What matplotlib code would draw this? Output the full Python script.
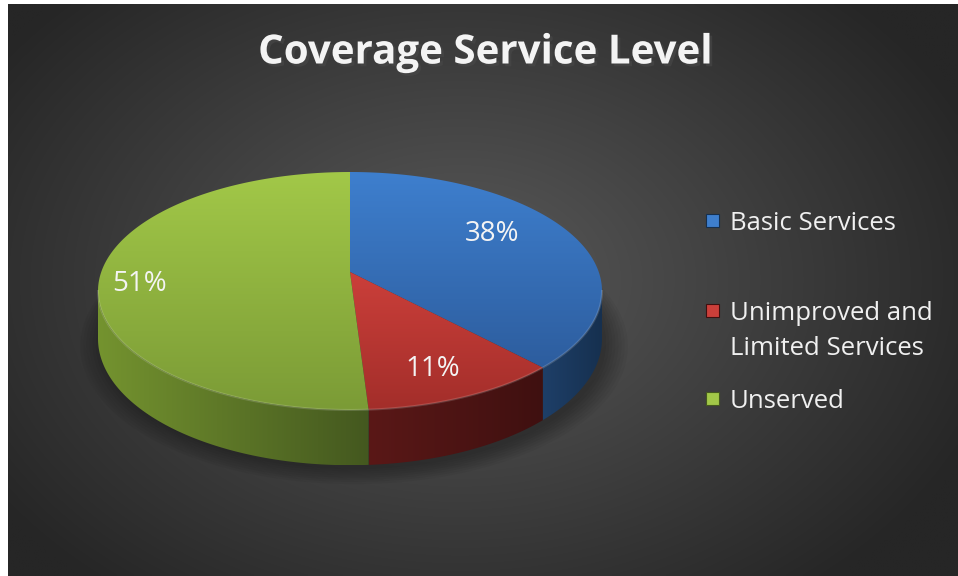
import numpy as np
import matplotlib.pyplot as plt
from matplotlib.patches import Polygon, Rectangle
from matplotlib.colors import to_rgb
import matplotlib.patheffects as pe

title = 'Coverage Service Level'
labels = ['Basic Services', 'Unimproved and\nLimited Services', 'Unserved']
shares = [38, 11, 51]

top_cols = [('#3e7fce', '#2d5d9e'), ('#cb3f3a', '#a32e2a'), ('#a2c848', '#7b9b36')]
side_cols = [('#1e3f68', '#16304f'), ('#5a1817', '#3f1010'), ('#74932f', '#44581f')]

W, H = 958, 576
fig = plt.figure(figsize=(W / 100, H / 100), dpi=100, facecolor='white')
ax = fig.add_axes([0, 0, 1, 1])
ax.set_axis_off()


def grad_fill(xy, c0, c1, horiz=False, z=2):
    xy = np.asarray(xy)
    patch = Polygon(xy, closed=True, fc='none', ec='none', zorder=z)
    ax.add_patch(patch)
    f = np.linspace(0, 1, 256)[:, None]
    img = np.array(to_rgb(c0)) * (1 - f) + np.array(to_rgb(c1)) * f
    img = img[None, :, :] if horiz else img[:, None, :]
    x0, y0 = xy.min(axis=0)
    x1, y1 = xy.max(axis=0)
    im = ax.imshow(img, extent=(x0, x1, y1, y0), aspect='auto',
                   interpolation='bilinear', zorder=z)
    im.set_clip_path(patch)


# background radial gradient
gx, gy = np.meshgrid(np.linspace(8, W, 300), np.linspace(4, H, 200))
r = np.sqrt(((gx - 460) / 560) ** 2 + ((gy - 280) / 400) ** 2)
r = np.clip(r, 0, 1)[..., None]
bg = np.array(to_rgb('#5a5a5a')) * (1 - r) + np.array(to_rgb('#262626')) * r
ax.imshow(bg, extent=(8, W, H, 4), aspect='auto', interpolation='bilinear', zorder=0)

# 3d pie geometry
cx, cy, A, B, D = 350, 291, 252, 119, 47
c = -0.16
k = np.sqrt(1 - c * c)


def proj(t, rr=1.0, z=0.0):
    u = rr * np.cos(t)
    v = rr * np.sin(t)
    w = 1 + c * v
    return cx + A * k * u / w, cy + B * (v + c) / w + z * D * k / w


# soft shadow
for i in range(8):
    t = np.linspace(0, 2 * np.pi, 200)
    sx, sy = proj(t, 1.0 + 0.012 * i, 1.0)
    ax.fill(sx + 4, sy + 4, color='black', alpha=0.04, lw=0, zorder=1)

t_vis0 = np.arcsin(-c)
t_vis1 = np.pi - t_vis0

frac = np.array(shares) / sum(shares)
edges = -np.pi / 2 + np.concatenate([[0], np.cumsum(frac)]) * 2 * np.pi

# sides
for i in range(len(shares)):
    a0 = max(edges[i], t_vis0)
    a1 = min(edges[i + 1], t_vis1)
    if a1 <= a0:
        continue
    t = np.linspace(a0, a1, 100)
    x0, y0 = proj(t)
    x1, y1 = proj(t[::-1], 1.0, 1.0)
    grad_fill(np.column_stack([np.r_[x0, x1], np.r_[y0, y1]]),
              side_cols[i][0], side_cols[i][1], horiz=True, z=2)

# tops
for i in range(len(shares)):
    t = np.linspace(edges[i], edges[i + 1], 200)
    x0, y0 = proj(t)
    ccx, ccy = proj(0.0, 0.0)
    xy = np.column_stack([np.r_[ccx, x0], np.r_[ccy, y0]])
    grad_fill(xy, top_cols[i][0], top_cols[i][1], z=3)

# rim highlight along the front edge
t = np.linspace(t_vis0, t_vis1, 200)
rx, ry = proj(t)
ax.plot(rx, ry, color='white', alpha=0.15, lw=1.5, zorder=4)

# data labels (Excel puts them inside the slices)
lab_xy = [(492, 234), (433, 369), (140, 284)]
for i in range(len(shares)):
    ax.text(lab_xy[i][0], lab_xy[i][1], '%d%%' % shares[i], color='#f4f4f4',
            fontsize=20, family='Open Sans', ha='center', va='center', zorder=5)

# title
ax.text(485, 53, title, color='#f4f4f4', fontsize=29, fontweight='bold',
        family='Open Sans', ha='center', va='center', zorder=5,
        path_effects=[pe.SimplePatchShadow(offset=(2, -2), alpha=0.6), pe.Normal()])

# legend
leg_y = [220, 310, 398]
for i in range(len(labels)):
    ax.add_patch(Rectangle((706, leg_y[i] - 6), 13, 13, fc=top_cols[i][0],
                           ec=side_cols[i][1], lw=0.8, zorder=5))
    ty = leg_y[i] + 3 + 18 * labels[i].count('\n')
    ax.text(730, ty, labels[i], color='#f0f0f0', fontsize=18.5,
            family='Open Sans', ha='left', va='center', linespacing=1.5, zorder=5)

ax.set_xlim(0, W)
ax.set_ylim(H, 0)
fig.savefig('out.png', dpi=100, facecolor='white')
